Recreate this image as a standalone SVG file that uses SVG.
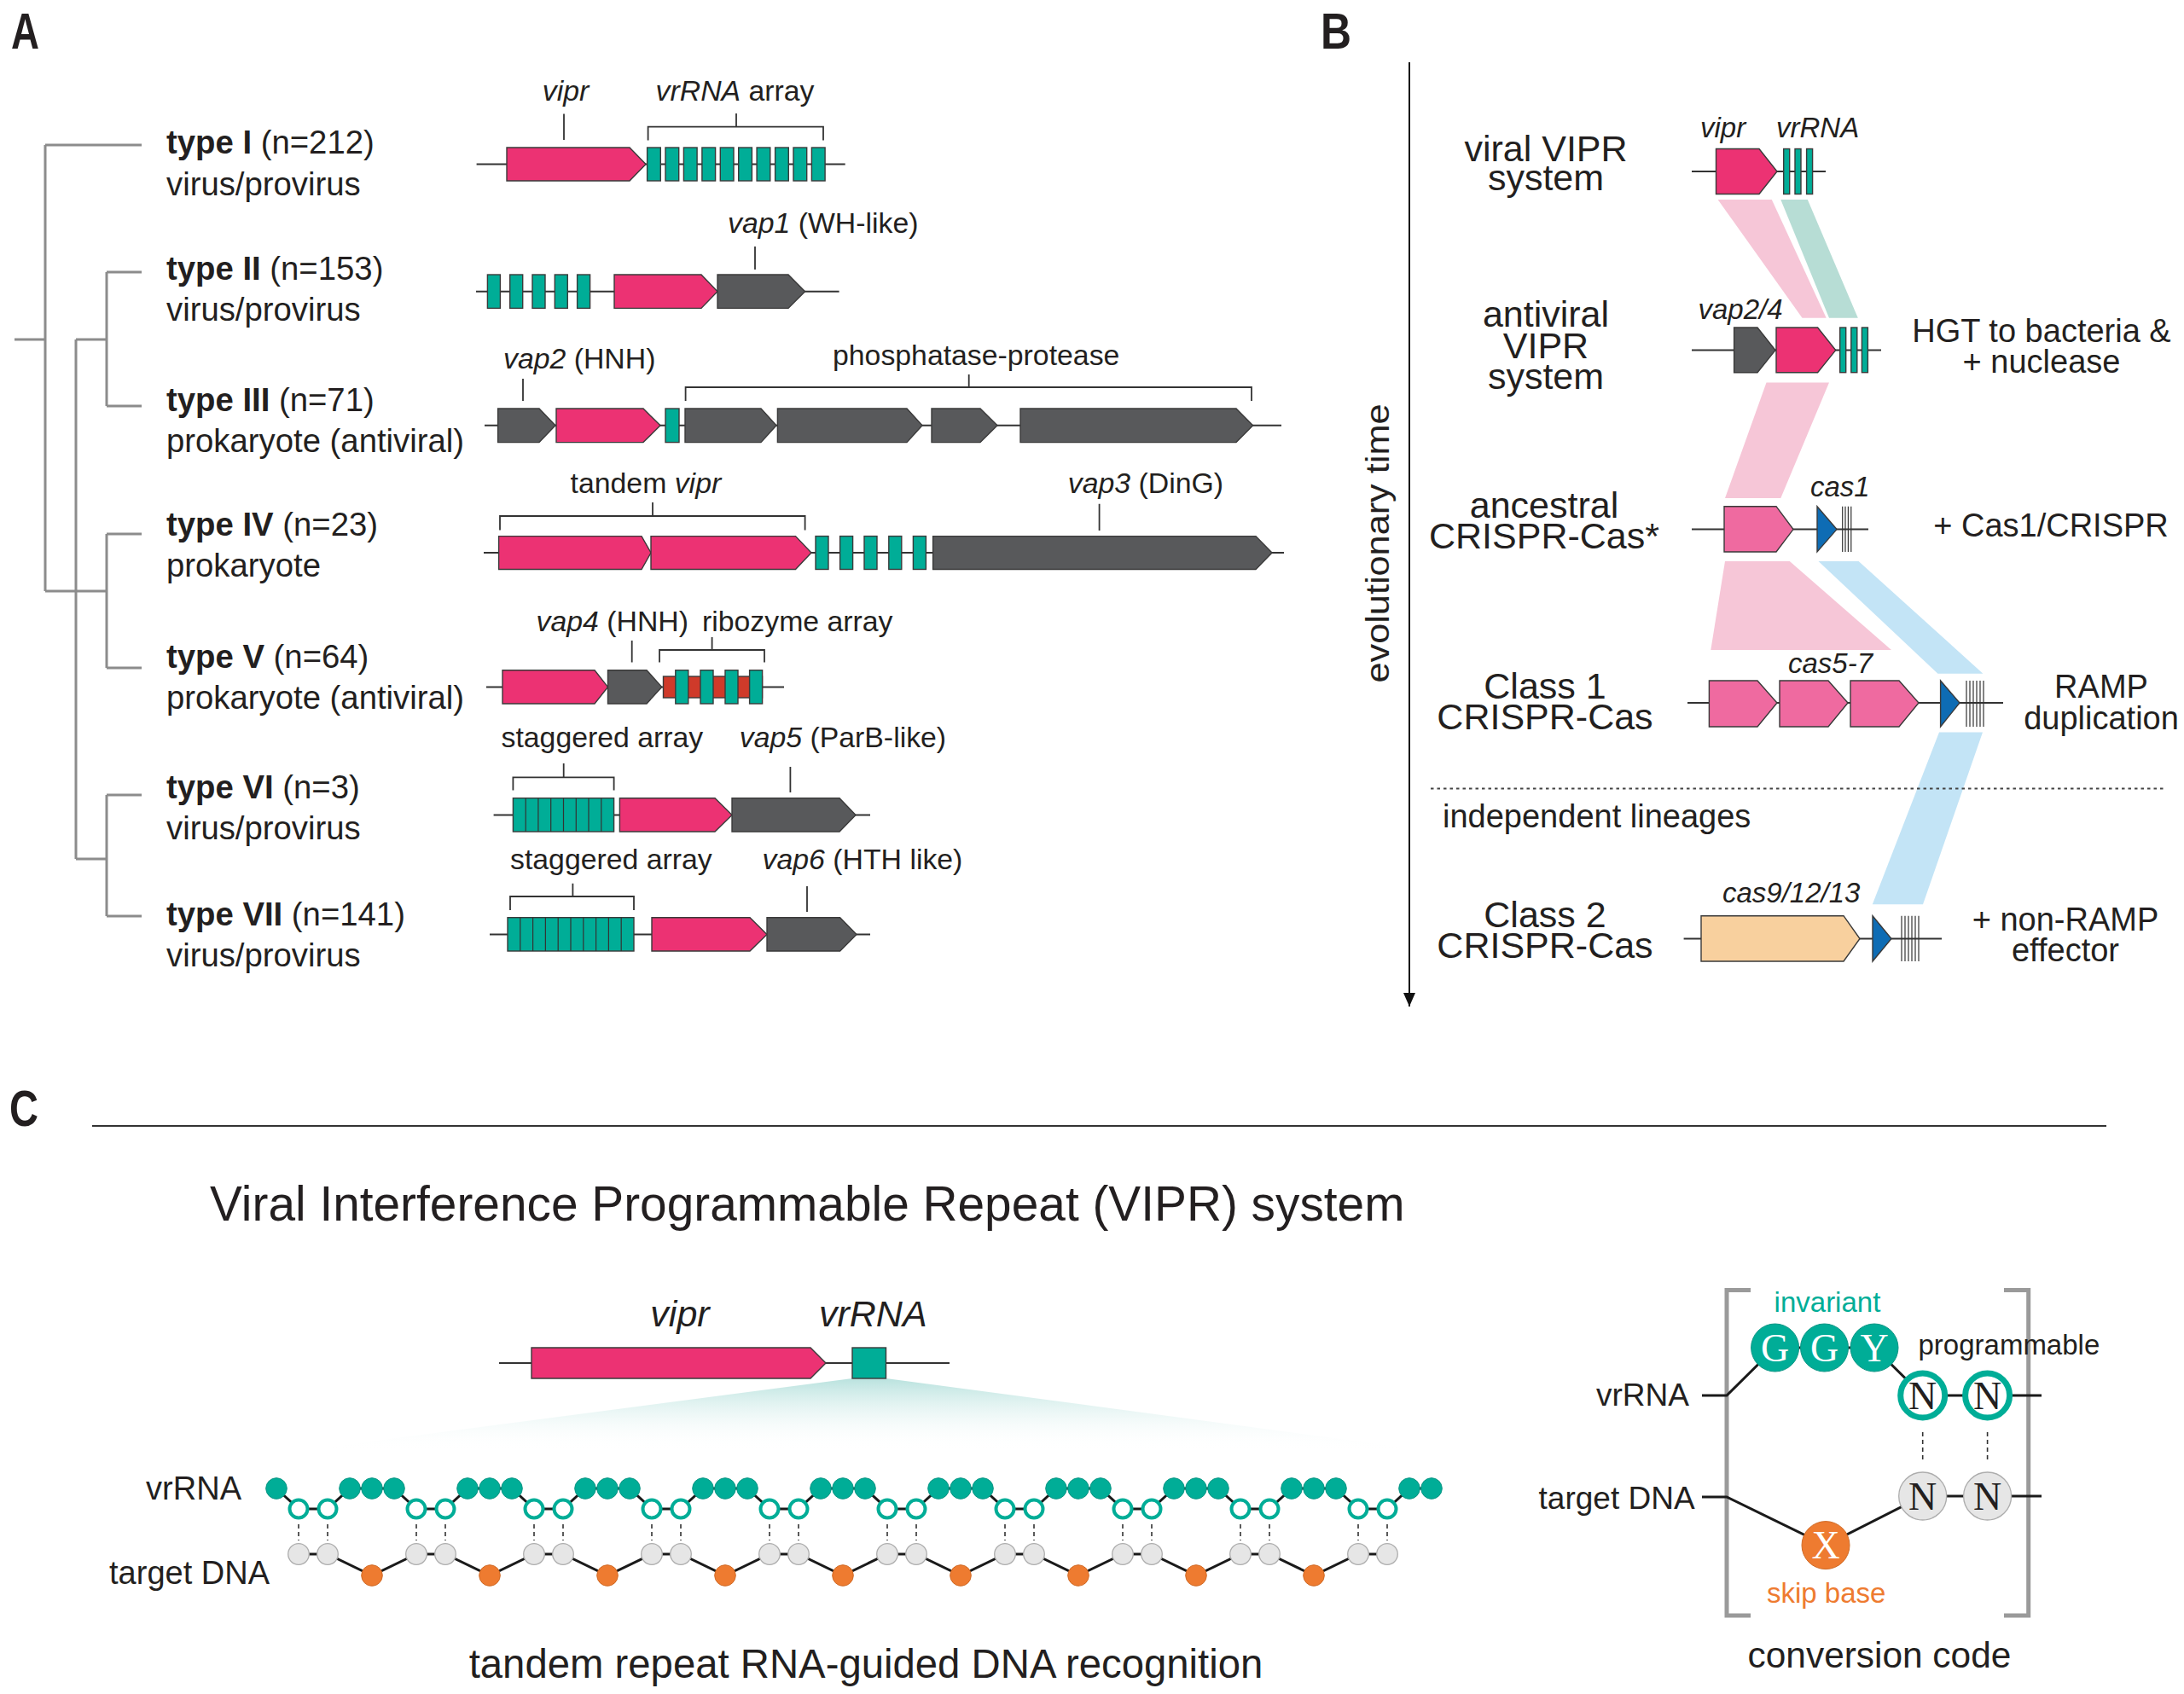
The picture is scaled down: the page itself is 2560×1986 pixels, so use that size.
<svg xmlns="http://www.w3.org/2000/svg" width="2560" height="1986" viewBox="0 0 2560 1986">
<defs>
<style>
text{font-family:"Liberation Sans",Arial,Helvetica,sans-serif;fill:#231f20}
.pl{font-weight:bold;font-size:60px}
.ty{font-size:38.3px}
.b{font-weight:bold}
.gl{font-size:33.8px}
.gb{font-size:33px;font-style:italic}
.i{font-style:italic}
.bl{font-size:43px;text-anchor:middle}
.br{font-size:38px;text-anchor:middle}
.g{stroke:#3a3a3a;stroke-width:1.4}
.pk{fill:#ec3273}
.lp{fill:#ef6aa0}
.tl{fill:#00ad97}
.gy{fill:#58595b}
.bu{fill:#0e6cb4}
.be{fill:#f8d09e}
.rd{fill:#cf3a2a}
.bb{stroke:#333;stroke-width:2;fill:none}
.tk{stroke:#333;stroke-width:1.8;fill:none}
.tree{stroke:#8c8c8c;stroke-width:3;fill:none}
.cr{stroke:#333;stroke-width:1.2}
.ch{stroke:#1a1a1a;stroke-width:3;fill:none}
.dsh{stroke:#333;stroke-width:1.6;stroke-dasharray:5 4}
.fc{fill:#00ad97;stroke:#0a9584;stroke-width:1}
.oc{fill:#fff;stroke:#00ad97;stroke-width:4}
.gc{fill:#e6e6e6;stroke:#adadad;stroke-width:1.3}
.orc{fill:#ee7b30;stroke:#d06a25;stroke-width:1}
.mono{font-family:"Liberation Serif","Times New Roman",serif;font-size:46px;text-anchor:middle}
</style>
<linearGradient id="fan" x1="0" y1="0" x2="0" y2="1">
<stop offset="0" stop-color="#b9e2de"/>
<stop offset="1" stop-color="#ffffff" stop-opacity="0"/>
</linearGradient>
<marker id="ah" markerWidth="16" markerHeight="14" refX="16" refY="7" orient="auto" markerUnits="userSpaceOnUse" viewBox="0 0 16 14">
<path d="M0,0 L16,7 L0,14 Z" fill="#111"/>
</marker>
</defs>
<rect width="2560" height="1986" fill="#fff"/>

<!-- panel letters -->
<text class="pl" x="13" y="57" textLength="33" lengthAdjust="spacingAndGlyphs">A</text>
<text class="pl" x="1548" y="57" textLength="36" lengthAdjust="spacingAndGlyphs">B</text>
<text class="pl" x="11" y="1320" textLength="34" lengthAdjust="spacingAndGlyphs">C</text>

<!-- connectors -->
<g id="connectors">
<path class="tree" d="M17,398 H53 M53,170 V693 M53,170 H166 M89,398 V1007 M89,398 H125 M125,319 V476 M125,319 H166 M125,476 H166 M53,693 H125 M125,626 V783 M125,626 H166 M125,783 H166 M89,1007 H125 M125,932 V1074 M125,932 H166 M125,1074 H166"/>
<polygon points="2013.6,234 2076.8,234 2140.7,372.7 2112.5,372.7" fill="#f6c6d7"/>
<polygon points="2087.3,234 2118.8,234 2177.8,372.7 2144,372.7" fill="#b7ddd5"/>
<polygon points="2070.5,448.5 2144,448.5 2087.3,584 2022,584" fill="#f6c6d7"/>
<polygon points="2022,658 2097.8,658 2217,762 2005.3,762" fill="#f6c6d7"/>
<polygon points="2131.5,658 2178.6,658 2324.4,789.7 2271.4,789.7" fill="#c3e4f6"/>
<polygon points="2273,858.6 2324,858.6 2254,1060.3 2194.8,1060.3" fill="#c3e4f6"/>
<path d="M1652,73 V1180" stroke="#111" stroke-width="2" marker-end="url(#ah)"/>
<path d="M1677,924.4 H2536" stroke="#444" stroke-width="2" stroke-dasharray="3.5 4"/>
</g>

<!-- Panel A type labels -->
<g id="typeI-label"><text class="ty" x="195" y="180"><tspan class="b">type I</tspan> (n=212)</text><text class="ty" x="195" y="229">virus/provirus</text></g>
<g id="typeII-label"><text class="ty" x="195" y="328"><tspan class="b">type II</tspan> (n=153)</text><text class="ty" x="195" y="376">virus/provirus</text></g>
<g id="typeIII-label"><text class="ty" x="195" y="482"><tspan class="b">type III</tspan> (n=71)</text><text class="ty" x="195" y="530">prokaryote (antiviral)</text></g>
<g id="typeIV-label"><text class="ty" x="195" y="628"><tspan class="b">type IV</tspan> (n=23)</text><text class="ty" x="195" y="676">prokaryote</text></g>
<g id="typeV-label"><text class="ty" x="195" y="783"><tspan class="b">type V</tspan> (n=64)</text><text class="ty" x="195" y="831">prokaryote (antiviral)</text></g>
<g id="typeVI-label"><text class="ty" x="195" y="936"><tspan class="b">type VI</tspan> (n=3)</text><text class="ty" x="195" y="984">virus/provirus</text></g>
<g id="typeVII-label"><text class="ty" x="195" y="1085"><tspan class="b">type VII</tspan> (n=141)</text><text class="ty" x="195" y="1133">virus/provirus</text></g>

<!-- Row I -->
<g id="locus-I">
<path class="bb" d="M558.6,192.5 H990.7"/>
<polygon class="g pk" points="594,173 738,173 757,192.5 738,212 594,212"/>
<g class="g tl">
<rect x="758.6" y="173" width="15.7" height="39"/><rect x="780" y="173" width="15.7" height="39"/><rect x="801.4" y="173" width="15.7" height="39"/><rect x="822.9" y="173" width="15.7" height="39"/><rect x="844.3" y="173" width="15.7" height="39"/><rect x="865.7" y="173" width="15.7" height="39"/><rect x="887.1" y="173" width="15.7" height="39"/><rect x="908.6" y="173" width="15.7" height="39"/><rect x="930" y="173" width="15.7" height="39"/><rect x="951.4" y="173" width="15.7" height="39"/>
</g>
<path class="tk" d="M661,133.5 V164 M759.6,164.6 V148.6 H965 V164.6 M863,133 V148.6"/>
<text class="gl i" x="663" y="117.5" text-anchor="middle">vipr</text>
<text class="gl" x="768.6" y="117.5"><tspan class="i">vrRNA</tspan> array</text>
</g>

<!-- Row II -->
<g id="locus-II">
<path class="bb" d="M558,341.7 H983.6"/>
<g class="g tl">
<rect x="571.4" y="322" width="15" height="39.4"/><rect x="597.7" y="322" width="15" height="39.4"/><rect x="624" y="322" width="15" height="39.4"/><rect x="650.3" y="322" width="15" height="39.4"/><rect x="676.6" y="322" width="15" height="39.4"/>
</g>
<polygon class="g pk" points="720,322 822,322 841,341.7 822,361.4 720,361.4"/>
<polygon class="g gy" points="841,322 924,322 943.6,341.7 924,361.4 841,361.4"/>
<path class="tk" d="M885,289 V316"/>
<text class="gl" x="853" y="273"><tspan class="i">vap1</tspan> (WH-like)</text>
</g>

<!-- Row III -->
<g id="locus-III">
<path class="bb" d="M568,498.8 H1502"/>
<polygon class="g gy" points="583.6,479 632,479 651,498.8 632,518.6 583.6,518.6"/>
<polygon class="g pk" points="652,479 754,479 774,498.8 754,518.6 652,518.6"/>
<rect class="g tl" x="780" y="479" width="16" height="39.6"/>
<polygon class="g gy" points="803,479 892,479 910,498.8 892,518.6 803,518.6"/>
<polygon class="g gy" points="911.4,479 1063,479 1081,498.8 1063,518.6 911.4,518.6"/>
<polygon class="g gy" points="1092,479 1149,479 1169,498.8 1149,518.6 1092,518.6"/>
<polygon class="g gy" points="1196,479 1449,479 1468.6,498.8 1449,518.6 1196,518.6"/>
<path class="tk" d="M613,444 V470 M803.6,470 V454 H1467 V470 M1135.7,439 V454"/>
<text class="gl" x="590" y="432"><tspan class="i">vap2</tspan> (HNH)</text>
<text class="gl" x="976" y="428">phosphatase-protease</text>
</g>

<!-- Row IV -->
<g id="locus-IV">
<path class="bb" d="M567,648 H1505"/>
<polygon class="g pk" points="584.6,628.6 752,628.6 763,648 752,667.5 584.6,667.5"/>
<polygon class="g pk" points="763,628.6 932.5,628.6 951,648 932.5,667.5 763,667.5"/>
<g class="g tl">
<rect x="956" y="628.6" width="15" height="38.9"/><rect x="984.6" y="628.6" width="15" height="38.9"/><rect x="1013" y="628.6" width="15" height="38.9"/><rect x="1041.8" y="628.6" width="15" height="38.9"/><rect x="1070.4" y="628.6" width="15" height="38.9"/>
</g>
<polygon class="g gy" points="1093.6,628.6 1472,628.6 1491,648 1472,667.5 1093.6,667.5"/>
<path class="tk" d="M586,621.4 V605 H943.6 V621.4 M765,589 V605 M1288.6,590.7 V622"/>
<text class="gl" x="668.6" y="577.5">tandem <tspan class="i">vipr</tspan></text>
<text class="gl" x="1251.8" y="578"><tspan class="i">vap3</tspan> (DinG)</text>
</g>

<!-- Row V -->
<g id="locus-V">
<path class="bb" d="M570,805.4 H919"/>
<polygon class="g pk" points="589,785.7 697,785.7 712.5,805.4 697,825 589,825"/>
<polygon class="g gy" points="712.5,785.7 758,785.7 775.7,805.4 758,825 712.5,825"/>
<rect class="g rd" x="777.5" y="793" width="116" height="25"/>
<g class="g tl">
<rect x="791.8" y="785.7" width="15" height="39.3"/><rect x="821" y="785.7" width="15" height="39.3"/><rect x="850" y="785.7" width="15" height="39.3"/><rect x="878.6" y="785.7" width="15" height="39.3"/>
</g>
<path class="tk" d="M740.7,751 V776.4 M773,776.4 V762 H896 V776.4 M834.6,747 V762"/>
<text class="gl" x="628.6" y="740"><tspan class="i">vap4</tspan> (HNH)</text>
<text class="gl" x="823" y="740">ribozyme array</text>
</g>

<!-- Row VI -->
<g id="locus-VI">
<path class="bb" d="M578.6,955.4 H1020"/>
<rect class="g tl" x="601.4" y="935.7" width="118.2" height="39.3"/>
<path class="cr" d="M616.2,935.7 V975 M630.9,935.7 V975 M645.7,935.7 V975 M660.5,935.7 V975 M675.3,935.7 V975 M690,935.7 V975 M704.8,935.7 V975"/>
<polygon class="g pk" points="726.4,935.7 838,935.7 858,955.4 838,975 726.4,975"/>
<polygon class="g gy" points="858,935.7 984,935.7 1003,955.4 984,975 858,975"/>
<path class="tk" d="M601.4,926.4 V911.4 H719.6 V926.4 M660.7,895 V911.4 M926.4,899 V929"/>
<text class="gl" x="587.5" y="875.7">staggered array</text>
<text class="gl" x="866.8" y="875.7"><tspan class="i">vap5</tspan> (ParB-like)</text>
</g>

<!-- Row VII -->
<g id="locus-VII">
<path class="bb" d="M574,1095.4 H1020"/>
<rect class="g tl" x="595" y="1075.7" width="148" height="39.3"/>
<path class="cr" d="M609.8,1075.7 V1115 M624.6,1075.7 V1115 M639.4,1075.7 V1115 M654.2,1075.7 V1115 M669,1075.7 V1115 M683.8,1075.7 V1115 M698.6,1075.7 V1115 M713.4,1075.7 V1115 M728.2,1075.7 V1115"/>
<polygon class="g pk" points="764,1075.7 879,1075.7 899,1095.4 879,1115 764,1115"/>
<polygon class="g gy" points="899,1075.7 984.6,1075.7 1004,1095.4 984.6,1115 899,1115"/>
<path class="tk" d="M598,1067 V1051 H743 V1067 M671.4,1035.7 V1051 M946,1039 V1069"/>
<text class="gl" x="598" y="1018.6">staggered array</text>
<text class="gl" x="893.6" y="1018.6"><tspan class="i">vap6</tspan> (HTH like)</text>
</g>

<!-- Panel B -->
<text x="0" y="0" font-size="38" text-anchor="middle" transform="translate(1628,637) rotate(-90)" textLength="327" lengthAdjust="spacingAndGlyphs">evolutionary time</text>

<g id="viral-vipr">
<text class="bl"><tspan x="1812" y="189">viral VIPR</tspan><tspan x="1812" y="223">system</tspan></text>
<path class="bb" d="M1983,201 H2140"/>
<polygon class="g pk" points="2011.5,174.5 2062,174.5 2083,201 2062,227.5 2011.5,227.5"/>
<g class="g tl"><rect x="2090.7" y="174.5" width="7" height="53"/><rect x="2104" y="174.5" width="7" height="53"/><rect x="2117.6" y="174.5" width="7" height="53"/></g>
<text class="gb" x="1993" y="161">vipr</text>
<text class="gb" x="2082" y="161">vrRNA</text>
</g>

<g id="antiviral-vipr">
<text class="bl"><tspan x="1812" y="383">antiviral</tspan><tspan x="1812" y="420">VIPR</tspan><tspan x="1812" y="456">system</tspan></text>
<path class="bb" d="M1983,410.6 H2205"/>
<polygon class="g gy" points="2032.6,384 2060,384 2081,410.6 2060,436.7 2032.6,436.7"/>
<polygon class="g pk" points="2082,384 2130.6,384 2151.7,410.6 2130.6,436.7 2082,436.7"/>
<g class="g tl"><rect x="2156.7" y="384" width="7" height="52.7"/><rect x="2169.8" y="384" width="7" height="52.7"/><rect x="2182.4" y="384" width="7" height="52.7"/></g>
<text class="gb" x="1990.5" y="374.4">vap2/4</text>
<text class="br"><tspan x="2393" y="401">HGT to bacteria &amp;</tspan><tspan x="2393" y="437">+ nuclease</tspan></text>
</g>

<g id="ancestral-crispr">
<text class="bl"><tspan x="1810" y="607">ancestral</tspan><tspan x="1810" y="643">CRISPR-Cas*</tspan></text>
<path class="bb" d="M1983,620.6 H2190"/>
<polygon class="g lp" points="2021,593.7 2082,593.7 2102,620.6 2082,647 2021,647"/>
<polygon class="g bu" points="2130,593.7 2153,620.6 2130,647"/>
<path class="cr" d="M2159.7,593.7 V647 M2163,593.7 V647 M2166.4,593.7 V647 M2169.8,593.7 V647"/>
<text class="gb" x="2122" y="582">cas1</text>
<text class="br" x="2404" y="629">+ Cas1/CRISPR</text>
</g>

<g id="class1-crispr">
<text class="bl"><tspan x="1811" y="819">Class 1</tspan><tspan x="1811" y="855">CRISPR-Cas</tspan></text>
<path class="bb" d="M1978,824 H2348"/>
<polygon class="g lp" points="2003.4,798 2060,798 2083,824 2060,852 2003.4,852"/>
<polygon class="g lp" points="2086,798 2143,798 2166,824 2143,852 2086,852"/>
<polygon class="g lp" points="2169,798 2226,798 2249,824 2226,852 2169,852"/>
<polygon class="g bu" points="2274.6,798 2297,824 2274.6,852"/>
<path class="cr" d="M2305,798 V852 M2309,798 V852 M2313,798 V852 M2317,798 V852 M2321,798 V852 M2325,798 V852"/>
<text class="gb" x="2096" y="788.6">cas5-7</text>
<text class="br"><tspan x="2463" y="818">RAMP</tspan><tspan x="2463" y="855">duplication</tspan></text>
</g>

<text class="br" x="1691" y="970" style="text-anchor:start">independent lineages</text>

<g id="class2-crispr">
<text class="bl"><tspan x="1811" y="1087">Class 2</tspan><tspan x="1811" y="1123">CRISPR-Cas</tspan></text>
<path class="bb" d="M1973.6,1100.5 H2276"/>
<polygon class="g be" points="1994,1073.7 2161,1073.7 2180,1100.5 2161,1127 1994,1127"/>
<polygon class="g bu" points="2195,1073.7 2217,1100.5 2195,1127"/>
<path class="cr" d="M2229,1073.7 V1127 M2233,1073.7 V1127 M2237,1073.7 V1127 M2241,1073.7 V1127 M2245,1073.7 V1127 M2249,1073.7 V1127"/>
<text class="gb" x="2019" y="1058">cas9/12/13</text>
<text class="br"><tspan x="2421" y="1091">+ non-RAMP</tspan><tspan x="2421" y="1127">effector</tspan></text>
</g>

<!-- Panel C -->
<path d="M108,1320 H2469" stroke="#333" stroke-width="2"/>
<text x="246" y="1431" font-size="56.8">Viral Interference Programmable Repeat (VIPR) system</text>

<g id="vipr-locus-C">
<polygon points="999,1616 1038.5,1616 1669,1700 358,1700" fill="url(#fan)"/>
<path class="bb" d="M585,1598 H1113"/>
<polygon class="g pk" points="623,1580 950,1580 968,1598 950,1616 623,1616"/>
<rect class="g tl" x="999" y="1580" width="39.5" height="36"/>
<text class="i" x="797" y="1555" font-size="43" text-anchor="middle">vipr</text>
<text class="i" x="960" y="1555" font-size="43">vrRNA</text>
</g>

<g id="repeat-chain">
<text x="283" y="1758" font-size="38" text-anchor="end">vrRNA</text>
<text x="316" y="1857" font-size="38" text-anchor="end">target DNA</text>
<path class="ch" d="M324,1745 L350,1769 H384 L410,1745 H462 L488,1769 H522 L548,1745 H600 L626,1769 H660 L686,1745 H738 L764,1769 H798 L824,1745 H876 L902,1769 H936 L962,1745 H1014 L1040,1769 H1074 L1100,1745 H1152 L1178,1769 H1212 L1238,1745 H1290 L1316,1769 H1350 L1376,1745 H1428 L1454,1769 H1488 L1514,1745 H1566 L1592,1769 H1626 L1652,1745 H1678"/>
<path class="ch" d="M350,1822 H384 L436,1847 L488,1822 H522 L574,1847 L626,1822 H660 L712,1847 L764,1822 H798 L850,1847 L902,1822 H936 L988,1847 L1040,1822 H1074 L1126,1847 L1178,1822 H1212 L1264,1847 L1316,1822 H1350 L1402,1847 L1454,1822 H1488 L1540,1847 L1592,1822 H1626"/>
<path class="dsh" d="M350,1787 V1806 M384,1787 V1806 M488,1787 V1806 M522,1787 V1806 M626,1787 V1806 M660,1787 V1806 M764,1787 V1806 M798,1787 V1806 M902,1787 V1806 M936,1787 V1806 M1040,1787 V1806 M1074,1787 V1806 M1178,1787 V1806 M1212,1787 V1806 M1316,1787 V1806 M1350,1787 V1806 M1454,1787 V1806 M1488,1787 V1806 M1592,1787 V1806 M1626,1787 V1806"/>
<g class="fc">
<circle cx="324" cy="1745" r="12.3"/>
<circle cx="410" cy="1745" r="12.3"/><circle cx="436" cy="1745" r="12.3"/><circle cx="462" cy="1745" r="12.3"/>
<circle cx="548" cy="1745" r="12.3"/><circle cx="574" cy="1745" r="12.3"/><circle cx="600" cy="1745" r="12.3"/>
<circle cx="686" cy="1745" r="12.3"/><circle cx="712" cy="1745" r="12.3"/><circle cx="738" cy="1745" r="12.3"/>
<circle cx="824" cy="1745" r="12.3"/><circle cx="850" cy="1745" r="12.3"/><circle cx="876" cy="1745" r="12.3"/>
<circle cx="962" cy="1745" r="12.3"/><circle cx="988" cy="1745" r="12.3"/><circle cx="1014" cy="1745" r="12.3"/>
<circle cx="1100" cy="1745" r="12.3"/><circle cx="1126" cy="1745" r="12.3"/><circle cx="1152" cy="1745" r="12.3"/>
<circle cx="1238" cy="1745" r="12.3"/><circle cx="1264" cy="1745" r="12.3"/><circle cx="1290" cy="1745" r="12.3"/>
<circle cx="1376" cy="1745" r="12.3"/><circle cx="1402" cy="1745" r="12.3"/><circle cx="1428" cy="1745" r="12.3"/>
<circle cx="1514" cy="1745" r="12.3"/><circle cx="1540" cy="1745" r="12.3"/><circle cx="1566" cy="1745" r="12.3"/>
<circle cx="1652" cy="1745" r="12.3"/><circle cx="1678" cy="1745" r="12.3"/>
</g>
<g class="oc">
<circle cx="350" cy="1769" r="10.5"/><circle cx="384" cy="1769" r="10.5"/>
<circle cx="488" cy="1769" r="10.5"/><circle cx="522" cy="1769" r="10.5"/>
<circle cx="626" cy="1769" r="10.5"/><circle cx="660" cy="1769" r="10.5"/>
<circle cx="764" cy="1769" r="10.5"/><circle cx="798" cy="1769" r="10.5"/>
<circle cx="902" cy="1769" r="10.5"/><circle cx="936" cy="1769" r="10.5"/>
<circle cx="1040" cy="1769" r="10.5"/><circle cx="1074" cy="1769" r="10.5"/>
<circle cx="1178" cy="1769" r="10.5"/><circle cx="1212" cy="1769" r="10.5"/>
<circle cx="1316" cy="1769" r="10.5"/><circle cx="1350" cy="1769" r="10.5"/>
<circle cx="1454" cy="1769" r="10.5"/><circle cx="1488" cy="1769" r="10.5"/>
<circle cx="1592" cy="1769" r="10.5"/><circle cx="1626" cy="1769" r="10.5"/>
</g>
<g class="gc">
<circle cx="350" cy="1822" r="12.3"/><circle cx="384" cy="1822" r="12.3"/>
<circle cx="488" cy="1822" r="12.3"/><circle cx="522" cy="1822" r="12.3"/>
<circle cx="626" cy="1822" r="12.3"/><circle cx="660" cy="1822" r="12.3"/>
<circle cx="764" cy="1822" r="12.3"/><circle cx="798" cy="1822" r="12.3"/>
<circle cx="902" cy="1822" r="12.3"/><circle cx="936" cy="1822" r="12.3"/>
<circle cx="1040" cy="1822" r="12.3"/><circle cx="1074" cy="1822" r="12.3"/>
<circle cx="1178" cy="1822" r="12.3"/><circle cx="1212" cy="1822" r="12.3"/>
<circle cx="1316" cy="1822" r="12.3"/><circle cx="1350" cy="1822" r="12.3"/>
<circle cx="1454" cy="1822" r="12.3"/><circle cx="1488" cy="1822" r="12.3"/>
<circle cx="1592" cy="1822" r="12.3"/><circle cx="1626" cy="1822" r="12.3"/>
</g>
<g class="orc">
<circle cx="436" cy="1847" r="12.3"/><circle cx="574" cy="1847" r="12.3"/><circle cx="712" cy="1847" r="12.3"/><circle cx="850" cy="1847" r="12.3"/><circle cx="988" cy="1847" r="12.3"/><circle cx="1126" cy="1847" r="12.3"/><circle cx="1264" cy="1847" r="12.3"/><circle cx="1402" cy="1847" r="12.3"/><circle cx="1540" cy="1847" r="12.3"/>
</g>
<text x="1015" y="1967" font-size="47.3" text-anchor="middle">tandem repeat RNA-guided DNA recognition</text>
</g>

<g id="conversion-code">
<path d="M2052,1512.5 H2024 V1894 H2052 M2349,1512.5 H2377.7 V1894 H2349" stroke="#9a9a9a" stroke-width="5" fill="none"/>
<path class="ch" d="M1995,1636 H2024 L2080.6,1580 H2197 L2253.7,1636 H2393"/>
<path class="ch" d="M1995,1755 H2024 L2140,1811.6 L2253.7,1754 H2393"/>
<path class="dsh" d="M2253.7,1679 V1713 M2329.6,1679 V1713" stroke-dasharray="7 5"/>
<circle class="fc" cx="2080.6" cy="1580" r="28"/>
<circle class="fc" cx="2138.5" cy="1580" r="28"/>
<circle class="fc" cx="2197" cy="1580" r="28"/>
<circle cx="2253.7" cy="1636" r="26" fill="#fff" stroke="#00ad97" stroke-width="7"/>
<circle cx="2329.6" cy="1636" r="26" fill="#fff" stroke="#00ad97" stroke-width="7"/>
<circle class="gc" cx="2253.7" cy="1754" r="28"/>
<circle class="gc" cx="2329.6" cy="1754" r="28"/>
<circle class="orc" cx="2140" cy="1811.6" r="28"/>
<text class="mono" x="2080.6" y="1596" style="fill:#fff">G</text>
<text class="mono" x="2138.5" y="1596" style="fill:#fff">G</text>
<text class="mono" x="2197" y="1596" style="fill:#fff">Y</text>
<text class="mono" x="2253.7" y="1652">N</text>
<text class="mono" x="2329.6" y="1652">N</text>
<text class="mono" x="2253.7" y="1770">N</text>
<text class="mono" x="2329.6" y="1770">N</text>
<text class="mono" x="2140" y="1827" style="fill:#fff">X</text>
<text x="2079.6" y="1538" font-size="33" style="fill:#00ad97">invariant</text>
<text x="2248.5" y="1588" font-size="33">programmable</text>
<text x="1980" y="1648" font-size="37" text-anchor="end">vrRNA</text>
<text x="1986.6" y="1769" font-size="37" text-anchor="end">target DNA</text>
<text x="2071" y="1879" font-size="33" style="fill:#ee7b30">skip base</text>
<text x="2048.6" y="1955" font-size="42.4">conversion code</text>
</g>
</svg>
